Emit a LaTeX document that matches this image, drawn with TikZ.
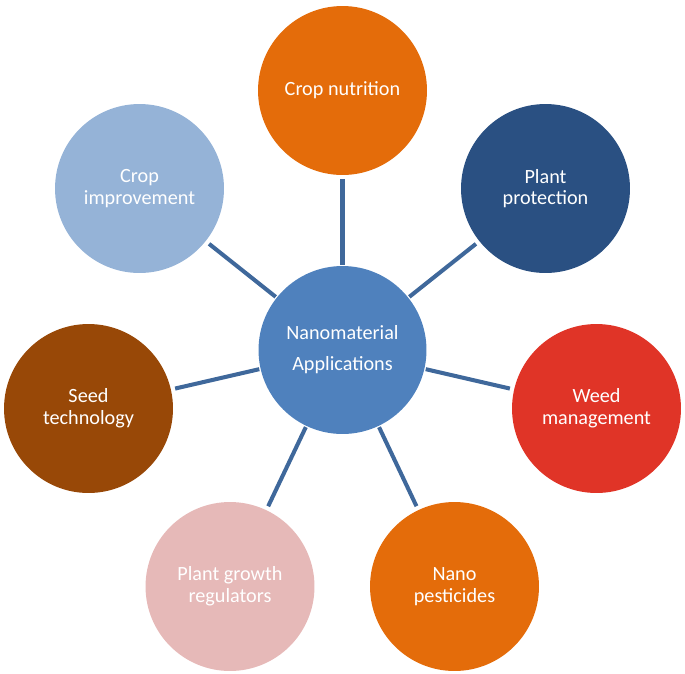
\documentclass[tikz,border=0pt]{standalone}
\usepackage{fontspec}
\setmainfont{Carlito}
\definecolor{hubblue}{HTML}{4F81BD}
\definecolor{linkblue}{HTML}{3F689B}
\definecolor{cropnut}{HTML}{E46C0A}
\definecolor{protect}{HTML}{2A5082}
\definecolor{weedred}{HTML}{E03427}
\definecolor{nanoorange}{HTML}{E46C0A}
\definecolor{growthpink}{HTML}{E6B9B8}
\definecolor{seedbrown}{HTML}{984807}
\definecolor{improveblue}{HTML}{95B3D7}
\begin{document}
\begin{tikzpicture}[x=0.02cm,y=-0.02cm,line cap=butt,line join=round,
  hub/.style={circle,fill=hubblue,minimum size=3.36cm,inner sep=0pt,text=white,align=center,font=\fontsize{11.5}{17.6}\selectfont},
  leaf/.style={circle,minimum size=3.38cm,inner sep=0pt,text=white,align=center,font=\fontsize{11.5}{12.3}\selectfont},
  link/.style={line width=2.3pt,draw=linkblue,shorten >=2.3pt,shorten <=0.6pt}]
\useasboundingbox (0,0) rectangle (685,673);
\node[hub] (nano) at (342.5,350) {Nanomaterial\\Applications};
\node[leaf,fill=cropnut] (nutrition) at (342.5,90.5) {Crop nutrition};
\node[leaf,fill=protect] (protection) at (545.5,188.5) {Plant\\protection};
\node[leaf,fill=weedred] (weed) at (596.5,408.5) {Weed\\management};
\node[leaf,fill=nanoorange] (pesticides) at (454.5,586.5) {Nano\\pesticides};
\node[leaf,fill=growthpink] (growth) at (230,586.5) {Plant growth\\regulators};
\node[leaf,fill=seedbrown] (seed) at (88.5,408.5) {Seed\\technology};
\node[leaf,fill=improveblue] (improvement) at (139.5,188.5) {Crop\\improvement};
\draw[link] (nano) -- (nutrition);
\draw[link] (nano) -- (protection);
\draw[link] (nano) -- (weed);
\draw[link] (nano) -- (pesticides);
\draw[link] (nano) -- (growth);
\draw[link] (nano) -- (seed);
\draw[link] (nano) -- (improvement);
\end{tikzpicture}
\end{document}
